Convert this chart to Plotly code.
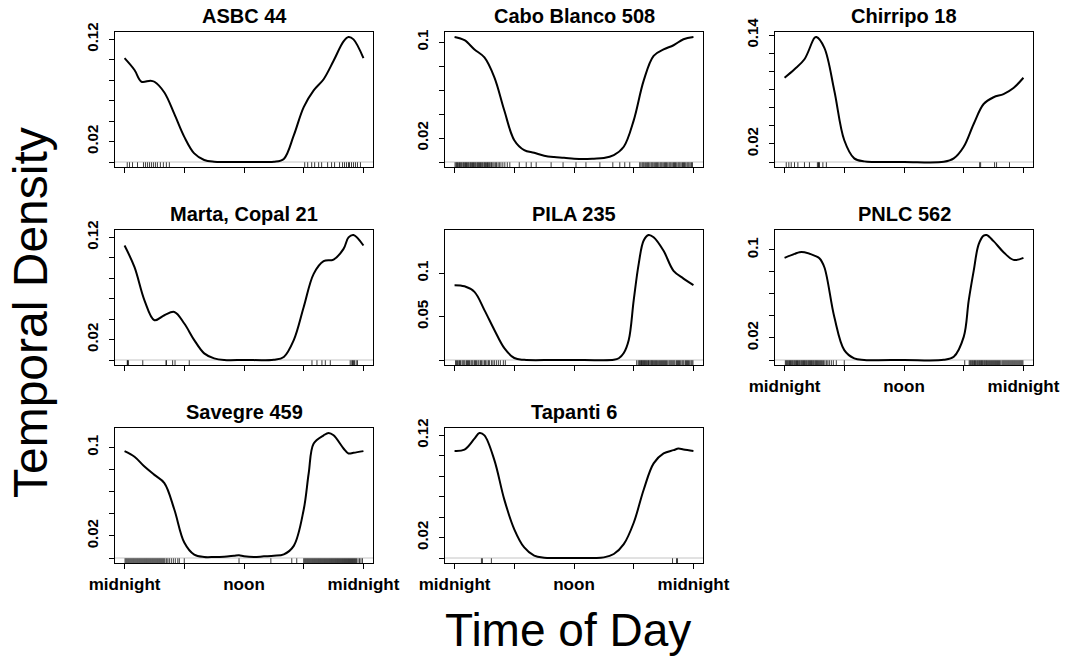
import plotly.graph_objects as go

# ---------------- data ----------------
titles = ["ASBC 44", "Cabo Blanco 508", "Chirripo 18", "Marta, Copal 21",
          "PILA 235", "PNLC 562", "Savegre 459", "Tapanti 6"]

asbc_x = [0, 1, 1.7, 2.6, 3, 4, 5, 6, 7, 8, 9, 10, 12, 14, 15, 16, 17, 18, 19, 20, 21, 22, 22.5, 23, 24]
asbc_y = [0.1016, 0.0900, 0.0785, 0.0796, 0.0785, 0.0680, 0.0470, 0.0246, 0.0084, 0.0020, 0.0003, 0, 0, 0, 0.0002,
          0.0030, 0.0260, 0.0537, 0.0700, 0.0810, 0.0990, 0.1180, 0.1223, 0.1200, 0.1016]

cabo_x = [0, 1, 2, 3, 4, 5, 6, 7, 8, 9, 10, 11, 12, 13, 14, 15, 16, 17, 18, 19, 20, 21, 22, 23, 24]
cabo_y = [0.1044, 0.1017, 0.0940, 0.0873, 0.0707, 0.0430, 0.0182, 0.0099, 0.0077, 0.0052, 0.0041, 0.0036, 0.0028,
          0.0025, 0.0028, 0.0033, 0.0058, 0.0127, 0.0348, 0.0680, 0.0887, 0.0940, 0.0975, 0.1025, 0.1044]

chir_x = [0, 1, 2, 3, 3.2, 4, 5, 6, 7, 8, 9, 12, 16, 17, 18, 19, 20, 21, 22, 23, 24]
chir_y = [0.0930, 0.1024, 0.1134, 0.1370, 0.1380, 0.1260, 0.0787, 0.0240, 0.0040, 0.0007, 0, 0, 0.0002,
          0.0040, 0.0168, 0.0420, 0.0640, 0.0715, 0.0750, 0.0817, 0.0930]

mart_x = [0, 1, 2, 3, 4, 5, 6, 7, 8, 9, 10, 12, 15, 16, 17, 18, 19, 20, 21, 22, 22.5, 23, 24]
mart_y = [0.1120, 0.0908, 0.0584, 0.0389, 0.0438, 0.0470, 0.0357, 0.0195, 0.0065, 0.0016, 0, 0, 0.0003,
          0.0030, 0.0195, 0.0519, 0.0843, 0.0967, 0.0983, 0.1087, 0.1200, 0.1223, 0.1120]

pila_x = [0, 1, 2, 3, 4, 5, 6, 7, 10, 13, 16, 16.5, 17, 17.5, 18, 18.5, 19, 19.5, 20, 21, 22, 23, 24]
pila_y = [0.0864, 0.0851, 0.0786, 0.0576, 0.0347, 0.0137, 0.0023, 0.0002, 0, 0, 0.0002, 0.0020, 0.0080,
          0.0230, 0.0690, 0.1110, 0.1380, 0.1443, 0.1416, 0.1260, 0.1030, 0.0940, 0.0864]

pnlc_x = [0, 1, 1.5, 2, 3, 3.5, 4, 5, 6, 7, 8, 12, 16, 17, 18, 18.5, 19, 19.5, 20, 20.3, 21, 22, 23, 24]
pnlc_y = [0.0928, 0.0964, 0.0980, 0.0979, 0.0949, 0.0925, 0.0843, 0.0390, 0.0090, 0.0015, 0.0001, 0, 0.0002,
          0.0030, 0.0210, 0.0540, 0.0810, 0.1050, 0.1130, 0.1136, 0.1080, 0.0980, 0.0910, 0.0928]

save_x = [0, 1, 2, 3, 4, 5, 6, 7, 8, 9, 10, 11, 11.5, 12, 13, 14, 15, 16, 17, 18, 18.5, 19, 20, 20.5, 21, 22, 22.5, 23, 24]
save_y = [0.0967, 0.0916, 0.0827, 0.0752, 0.0678, 0.0439, 0.0140, 0.0030, 0.0009, 0.0009, 0.0012, 0.0020, 0.0024,
          0.0015, 0.0009, 0.0015, 0.0020, 0.0033, 0.0110, 0.0439, 0.0767, 0.1036, 0.1110, 0.1131, 0.1110, 0.0991,
          0.0946, 0.0952, 0.0967]

tapa_x = [0, 1, 2, 2.5, 3, 4, 5, 6, 7, 8, 9, 10, 12, 14, 15, 16, 17, 18, 19, 20, 21, 22, 22.5, 23, 24]
tapa_y = [0.1048, 0.1061, 0.1168, 0.1223, 0.1200, 0.0958, 0.0571, 0.0281, 0.0103, 0.0023, 0.0003, 0, 0, 0,
          0.0006, 0.0039, 0.0135, 0.0345, 0.0668, 0.0926, 0.1023, 0.1055, 0.1071, 0.1061, 0.1048]

# observation times (rug)
asbc_rug = [0.27, 0.5, 0.8, 1.3, 1.9, 2.1, 2.3, 2.5, 2.7, 2.9, 3.1, 3.3, 3.6, 3.9, 4.2, 4.5,
            18.1, 18.4, 18.8, 19.1, 19.5, 19.8, 20.4, 20.8, 21.1, 21.6, 21.9, 22.1, 22.3, 22.5,
            22.6, 22.8, 23.0, 23.2, 23.4, 23.7]
cabo_rug = [0.05, 0.15, 0.22, 0.3, 0.41, 0.5, 0.58, 0.67, 0.75, 0.86, 0.93, 1.02, 1.1, 1.2, 1.28, 1.37,
            1.45, 1.56, 1.63, 1.72, 1.8, 1.9, 1.98, 2.07, 2.15, 2.26, 2.33, 2.42, 2.5, 2.6, 2.68, 2.77,
            2.85, 2.96, 3.03, 3.12, 3.2, 3.31, 3.38, 3.47, 3.55, 3.66, 3.73, 3.85, 3.97, 4.1, 4.22, 4.37,
            4.5, 4.66, 4.85, 5.05, 5.3, 5.55, 6.5, 7.2, 7.7, 8.2, 9.7, 10.9, 12.2, 13.2, 14.6, 15.9,
            16.6, 17.1, 17.6, 18.6, 18.72, 18.85, 18.95, 19.05, 19.17, 19.3, 19.4, 19.5, 19.62, 19.75,
            19.85, 19.95, 20.07, 20.2, 20.3, 20.4, 20.52, 20.65, 20.75, 20.85, 20.97, 21.1, 21.2, 21.3,
            21.42, 21.55, 21.65, 21.75, 21.87, 22.0, 22.1, 22.2, 22.32, 22.45, 22.55, 22.65, 22.77,
            22.9, 23.0, 23.1, 23.22, 23.35, 23.45, 23.55, 23.67, 23.8, 23.9]
chir_rug = [0.17, 0.43, 0.67, 1.0, 1.34, 2.0, 2.5, 3.3, 3.4, 3.45, 3.5, 3.85, 4.2, 19.6, 19.7, 21.1, 21.3, 22.6]
mart_rug = [0.27, 0.3, 0.4, 1.83, 4.17, 4.2, 4.83, 5.07, 6.5, 18.83, 19.33, 19.83, 20.17, 20.67,
            22.67, 22.83, 22.9, 23.0, 23.1, 23.27, 23.4]
pila_rug = [0.1, 0.2, 0.3, 0.42, 0.5, 0.6, 0.75, 0.85, 0.95, 1.05, 1.2, 1.3, 1.4, 1.5, 1.65, 1.75, 1.85,
            2.0, 2.1, 2.2, 2.35, 2.45, 2.6, 2.7, 2.85, 3.0, 3.1, 3.25, 3.4, 3.5, 3.7, 3.85, 4.0, 4.2,
            4.4, 4.6, 4.9, 5.1,
            18.3, 18.45, 18.55, 18.62, 18.7, 18.78, 18.85, 18.92, 19.0, 19.07, 19.15, 19.22, 19.3,
            19.4, 19.48, 19.55, 19.65, 19.75, 19.82, 19.9, 20.0, 20.1, 20.2, 20.28, 20.38, 20.5,
            20.6, 20.7, 20.8, 20.9, 21.0, 21.1, 21.2, 21.3, 21.42, 21.55, 21.65, 21.75, 21.85,
            21.95, 22.05, 22.15, 22.3, 22.4, 22.5, 22.6, 22.72, 22.85, 22.95, 23.05, 23.2, 23.3,
            23.4, 23.5, 23.62, 23.75, 23.85, 23.95]
pnlc_rug = [0.08, 0.17, 0.25, 0.33, 0.42, 0.5, 0.6, 0.68, 0.77, 0.85, 0.95, 1.03, 1.12, 1.2, 1.3, 1.38,
            1.47, 1.55, 1.65, 1.73, 1.82, 1.9, 2.0, 2.08, 2.17, 2.25, 2.35, 2.43, 2.52, 2.6, 2.7,
            2.78, 2.87, 2.95, 3.05, 3.13, 3.22, 3.3, 3.4, 3.5, 3.6, 3.7, 3.8, 3.92, 4.05, 4.2, 4.35,
            4.5, 4.7, 4.9, 5.2, 6.0, 18.1,
            18.55, 18.65, 18.73, 18.82, 18.9, 19.0, 19.08, 19.17, 19.25, 19.35, 19.43, 19.52, 19.6,
            19.7, 19.78, 19.87, 19.95, 20.05, 20.13, 20.22, 20.3, 20.4, 20.5, 20.6, 20.7, 20.8,
            20.9, 21.0, 21.1, 21.2, 21.3, 21.4, 21.5, 21.6, 21.72, 21.85, 21.95, 22.05, 22.15,
            22.25, 22.35, 22.45, 22.55, 22.65, 22.75, 22.85, 22.95, 23.05, 23.15, 23.25, 23.35,
            23.45, 23.55, 23.65, 23.75, 23.85, 23.95]
save_rug = [0.05, 0.15, 0.25, 0.35, 0.45, 0.55, 0.65, 0.75, 0.85, 0.95, 1.05, 1.15, 1.25, 1.35, 1.45,
            1.55, 1.65, 1.75, 1.85, 1.95, 2.05, 2.15, 2.25, 2.35, 2.45, 2.55, 2.65, 2.75, 2.85, 2.95,
            3.05, 3.15, 3.25, 3.35, 3.45, 3.55, 3.65, 3.75, 3.85, 3.95, 4.05, 4.2, 4.35, 4.5, 4.7,
            4.9, 5.1, 5.35, 5.5, 6.0, 11.5, 14.7, 16.8, 17.3,
            18.0, 18.1, 18.2, 18.3, 18.4, 18.5, 18.6, 18.7, 18.8, 18.9, 19.0, 19.1, 19.2, 19.3,
            19.4, 19.5, 19.6, 19.7, 19.8, 19.9, 20.0, 20.1, 20.2, 20.3, 20.4, 20.5, 20.6, 20.7,
            20.8, 20.9, 21.0, 21.1, 21.2, 21.3, 21.4, 21.5, 21.6, 21.7, 21.8, 21.9, 22.0, 22.1,
            22.2, 22.3, 22.4, 22.5, 22.6, 22.7, 22.8, 22.9, 23.0, 23.1, 23.2, 23.3, 23.45, 23.6,
            23.75, 23.9]
tapa_rug = [2.7, 2.8, 3.7, 21.9, 22.3, 22.4]

curves_x = [asbc_x, cabo_x, chir_x, mart_x, pila_x, pnlc_x, save_x, tapa_x]
curves_y = [asbc_y, cabo_y, chir_y, mart_y, pila_y, pnlc_y, save_y, tapa_y]
rugs = [asbc_rug, cabo_rug, chir_rug, mart_rug, pila_rug, pnlc_rug, save_rug, tapa_rug]

# y-axis ticks and the labels R managed to print
ytick_vals = [
    [0, 0.02, 0.04, 0.06, 0.08, 0.10, 0.12],
    [0, 0.02, 0.04, 0.06, 0.08, 0.10],
    [0, 0.02, 0.04, 0.06, 0.08, 0.10, 0.12, 0.14],
    [0, 0.02, 0.04, 0.06, 0.08, 0.10, 0.12],
    [0, 0.05, 0.10],
    [0, 0.02, 0.04, 0.06, 0.08, 0.10],
    [0, 0.02, 0.04, 0.06, 0.08, 0.10],
    [0, 0.02, 0.04, 0.06, 0.08, 0.10, 0.12],
]
ytick_text = [
    ["", "0.02", "", "", "", "", "0.12"],
    ["", "0.02", "", "", "", "0.1"],
    ["", "0.02", "", "", "", "", "", "0.14"],
    ["", "0.02", "", "", "", "", "0.12"],
    ["", "0.05", "0.1"],
    ["", "0.02", "", "", "", "0.1"],
    ["", "0.02", "", "", "", "0.1"],
    ["", "0.02", "", "", "", "", "0.12"],
]
xtick_vals = [0, 6, 12, 18, 24]
xtick_labels = ["midnight", "", "noon", "", "midnight"]
labelled_x = [5, 6, 7]

# ---------------- layout geometry ----------------
W, H = 1075, 657
col_left = [115, 445, 775]
row_top = [32, 230, 428]
pw, ph = 258, 135
FONT = "Liberation Sans, Arial, Helvetica, sans-serif"

fig = go.Figure()
layout = dict(width=W, height=H, margin=dict(l=0, r=0, t=0, b=0, autoexpand=False),
              plot_bgcolor="white", paper_bgcolor="white", showlegend=False,
              font=dict(family=FONT, color="black"))
annotations = []
shapes = []

for i, title in enumerate(titles):
    r, c = divmod(i, 3)
    n = "" if i == 0 else str(i + 1)
    xa, ya = "x" + n, "y" + n
    m = max(curves_y[i])
    ylo, yhi = -0.04 * m, 1.04 * m
    rug_top = ylo + 0.035 * (yhi - ylo)

    # rug
    rx, ry = [], []
    for t in rugs[i]:
        rx += [t, t, None]
        ry += [ylo, rug_top, None]
    fig.add_trace(go.Scatter(x=rx, y=ry, mode="lines", xaxis=xa, yaxis=ya,
                             line=dict(color="rgba(0,0,0,0.85)", width=0.9), hoverinfo="skip"))
    # density curve
    fig.add_trace(go.Scatter(x=curves_x[i], y=curves_y[i], mode="lines", xaxis=xa, yaxis=ya,
                             line=dict(color="black", width=2, shape="spline", smoothing=1.0)))

    x0 = col_left[c] / W
    x1 = (col_left[c] + pw) / W
    y1 = 1 - row_top[r] / H
    y0 = 1 - (row_top[r] + ph) / H
    axis_common = dict(showgrid=False, zeroline=False, showline=True, mirror=True,
                       linecolor="black", linewidth=1.3, ticks="outside", ticklen=5,
                       tickwidth=1.3, tickcolor="black", fixedrange=True, automargin=False)
    layout["xaxis" + n] = dict(axis_common, domain=[x0, x1], range=[-0.96, 24.96],
                               anchor=ya, tickmode="array", tickvals=xtick_vals,
                               ticktext=xtick_labels if i in labelled_x else [""] * 5,
                               tickfont=dict(size=17, weight="bold", family=FONT))
    layout["yaxis" + n] = dict(axis_common, domain=[y0, y1], range=[ylo, yhi],
                               anchor=xa, tickmode="array", tickvals=ytick_vals[i],
                               ticktext=ytick_text[i], tickangle=-90, ticklabelstandoff=5,
                               tickfont=dict(size=15, weight="bold", family=FONT))
    shapes.append(dict(type="line", xref=xa + " domain", yref=ya, x0=0, x1=1, y0=0, y1=0,
                       line=dict(color="#c4c4c4", width=1), layer="below"))
    annotations.append(dict(text=title, xref="paper", yref="paper",
                            x=(col_left[c] + pw / 2) / W, y=1 - (row_top[r] - 16) / H,
                            xanchor="center", yanchor="middle", showarrow=False,
                            font=dict(size=20, weight="bold", family=FONT)))

annotations.append(dict(text="Temporal Density", xref="paper", yref="paper",
                        x=30 / W, y=1 - 313 / H, textangle=-90, xanchor="center",
                        yanchor="middle", showarrow=False, font=dict(size=48, family=FONT)))
annotations.append(dict(text="Time of Day", xref="paper", yref="paper",
                        x=568 / W, y=1 - 630 / H, xanchor="center", yanchor="middle",
                        showarrow=False, font=dict(size=46, family=FONT)))

layout["annotations"] = annotations
layout["shapes"] = shapes
fig.update_layout(**layout)
fig.write_html("out.html", config={"displayModeBar": False},
               post_script="document.body.style.margin='0';document.body.style.overflow='hidden';")
